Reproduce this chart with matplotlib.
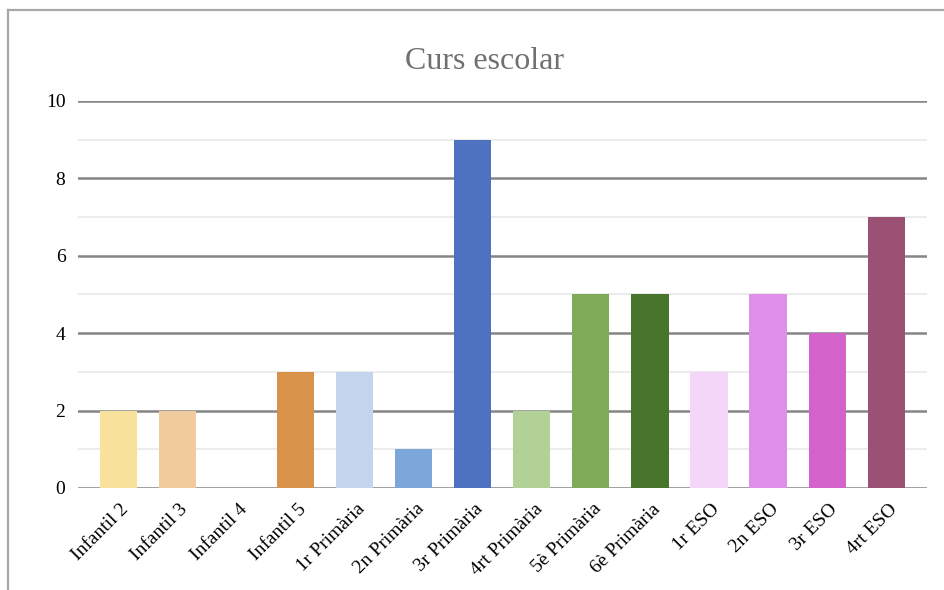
import matplotlib
matplotlib.use("Agg")
import matplotlib.pyplot as plt
import matplotlib.transforms as mtransforms
from matplotlib.lines import Line2D

# dades
cursos = ["Infantil 2", "Infantil 3", "Infantil 4", "Infantil 5", "1r Primària",
          "2n Primària", "3r Primària", "4rt Primària", "5è Primària", "6è Primària",
          "1r ESO", "2n ESO", "3r ESO", "4rt ESO"]
valors = [2, 2, 0, 3, 3, 1, 9, 2, 5, 5, 3, 5, 4, 7]
colors = ["#F9E39C", "#F0CB9B", "#E8B070", "#D9924A", "#C3D5EC",
          "#7BA6DA", "#4F72C0", "#B1D196", "#7FAA56", "#49742C",
          "#F4D6F8", "#E08FE8", "#D362CB", "#9B5174"]

plt.rcParams['font.family'] = ['Liberation Serif', 'DejaVu Serif']

fig = plt.figure(figsize=(9.44, 5.9), dpi=100)
ax = fig.add_axes([0.0826, 0.173, 0.8994, 0.656])

x = range(len(cursos))
ax.bar(x, valors, width=0.63, color=colors, zorder=3)

ax.set_ylim(0, 10)
ax.set_xlim(-0.68, 13.69)
ax.set_yticks(range(0, 11, 2))
ax.set_yticks(range(1, 11, 2), minor=True)
ax.grid(axis='y', which='major', color='#858585', linewidth=1.8, zorder=1)
ax.grid(axis='y', which='minor', color='#ececec', linewidth=1.5, zorder=1)
ax.tick_params(axis='both', which='both', length=0)
ax.tick_params(axis='y', labelsize=14, pad=9)
for s in ax.spines.values():
    s.set_visible(False)

ax.set_xticks(list(x))
ax.set_xticklabels(cursos, rotation=45, ha='right', rotation_mode='anchor', fontsize=14)
ax.tick_params(axis='x', pad=9)
off = mtransforms.ScaledTranslation(2 / 100, 0, fig.dpi_scale_trans)
for lab in ax.get_xticklabels():
    lab.set_transform(lab.get_transform() + off)

fig.text(0.513, 0.895, "Curs escolar", ha='center', va='center',
         fontsize=23, color='#707070')

# marc
fig.add_artist(Line2D([8 / 944, 8 / 944], [0, 1 - 10 / 590], color='#a8a8a8', linewidth=1.6))
fig.add_artist(Line2D([8 / 944, 1], [1 - 10 / 590, 1 - 10 / 590], color='#a8a8a8', linewidth=1.6))

fig.savefig("out.png", dpi=100)
